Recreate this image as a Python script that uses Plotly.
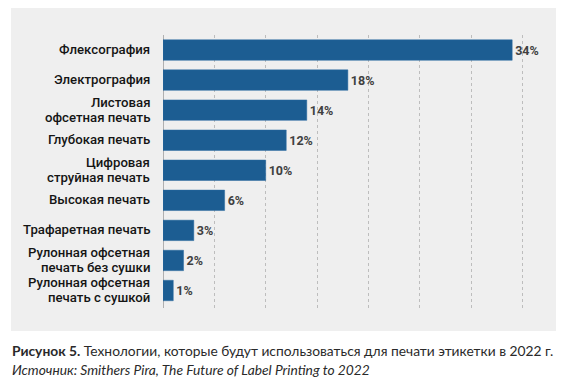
import plotly.graph_objects as go

categories = [
    "Флексография",
    "Электрография",
    "Листовая<br>офсетная печать",
    "Глубокая печать",
    "Цифровая<br>струйная печать",
    "Высокая печать",
    "Трафаретная печать",
    "Рулонная офсетная<br>печать без сушки",
    "Рулонная офсетная<br>печать с сушкой",
]
values = [34, 18, 14, 12, 10, 6, 3, 2, 1]
value_labels = [f"{v}%" for v in values]
grid_ticks = [0, 5, 10, 15, 20, 25, 30, 35]

caption_1 = "<b>Рисунок 5.</b> Технологии, которые будут использоваться для печати этикетки в 2022 г."
caption_2 = "<i>Источник: Smithers Pira, The Future of Label Printing to 2022</i>"

# page body has an 8px default margin; lay out in screen pixels and compensate
OFF = 8
SW, SH = 567, 382
W, H = SW - OFF, SH - OFF
plot_left, plot_right, plot_top, plot_bottom = 163, 543, 35, 308  # screen px
L = plot_left - OFF
R = SW - plot_right
T = plot_top - OFF
B = SH - plot_bottom
pw = plot_right - plot_left
ph = plot_bottom - plot_top

def px_x(x):
    return (x - plot_left) / pw

def px_y(y):
    return (plot_bottom - y) / ph

fig = go.Figure(
    go.Bar(
        x=values,
        y=categories,
        orientation="h",
        marker=dict(color="#1c5d92", line=dict(color="#2a6ba0", width=0.5)),
        width=0.68,
        text=value_labels,
        textposition="outside",
        cliponaxis=False,
        textfont=dict(family="Roboto", size=12.5, color="#404040", weight="bold"),
    )
)

fig.add_shape(
    type="rect", xref="paper", yref="paper",
    x0=px_x(11), x1=px_x(556), y0=px_y(331), y1=px_y(8),
    fillcolor="#efefef", line=dict(width=0), layer="below",
)

# category labels, line by line with tight leading
LINE_PITCH = 15
for cat in categories:
    lines = cat.split("<br>")
    n = len(lines)
    for i, line in enumerate(lines):
        fig.add_annotation(
            xref="paper", yref="y", x=0, y=cat,
            xanchor="right", yanchor="middle", xshift=-11,
            yshift=((n - 1) / 2 - i) * LINE_PITCH + 0.5,
            showarrow=False, text=line,
            font=dict(family="Roboto", size=13.2, color="#151515", weight=500),
        )

fig.add_annotation(
    xref="paper", yref="paper", x=px_x(10), y=px_y(351),
    xanchor="left", yanchor="middle", showarrow=False,
    text=caption_1, font=dict(family="Lato", size=13.8, color="#2a2a2a"),
)
fig.add_annotation(
    xref="paper", yref="paper", x=px_x(10), y=px_y(369),
    xanchor="left", yanchor="middle", showarrow=False,
    text=caption_2, font=dict(family="Lato", size=13.8, color="#2a2a2a"),
)

fig.update_layout(
    width=W, height=H,
    margin=dict(l=L, r=R, t=T, b=B, autoexpand=False),
    paper_bgcolor="white",
    plot_bgcolor="rgba(0,0,0,0)",
    showlegend=False,
    bargap=0.32,
    xaxis=dict(
        range=[0, 37],
        tickvals=grid_ticks,
        showticklabels=False,
        showgrid=True,
        gridcolor="#bdbdbd",
        griddash="dot",
        gridwidth=1,
        zeroline=True,
        zerolinecolor="#b0b0b0",
        zerolinewidth=1,
        showline=False,
        fixedrange=True,
    ),
    yaxis=dict(
        autorange="reversed",
        showticklabels=False,
        ticks="",
        showgrid=False,
        showline=False,
        fixedrange=True,
    ),
)

fig.write_html("out.html")
